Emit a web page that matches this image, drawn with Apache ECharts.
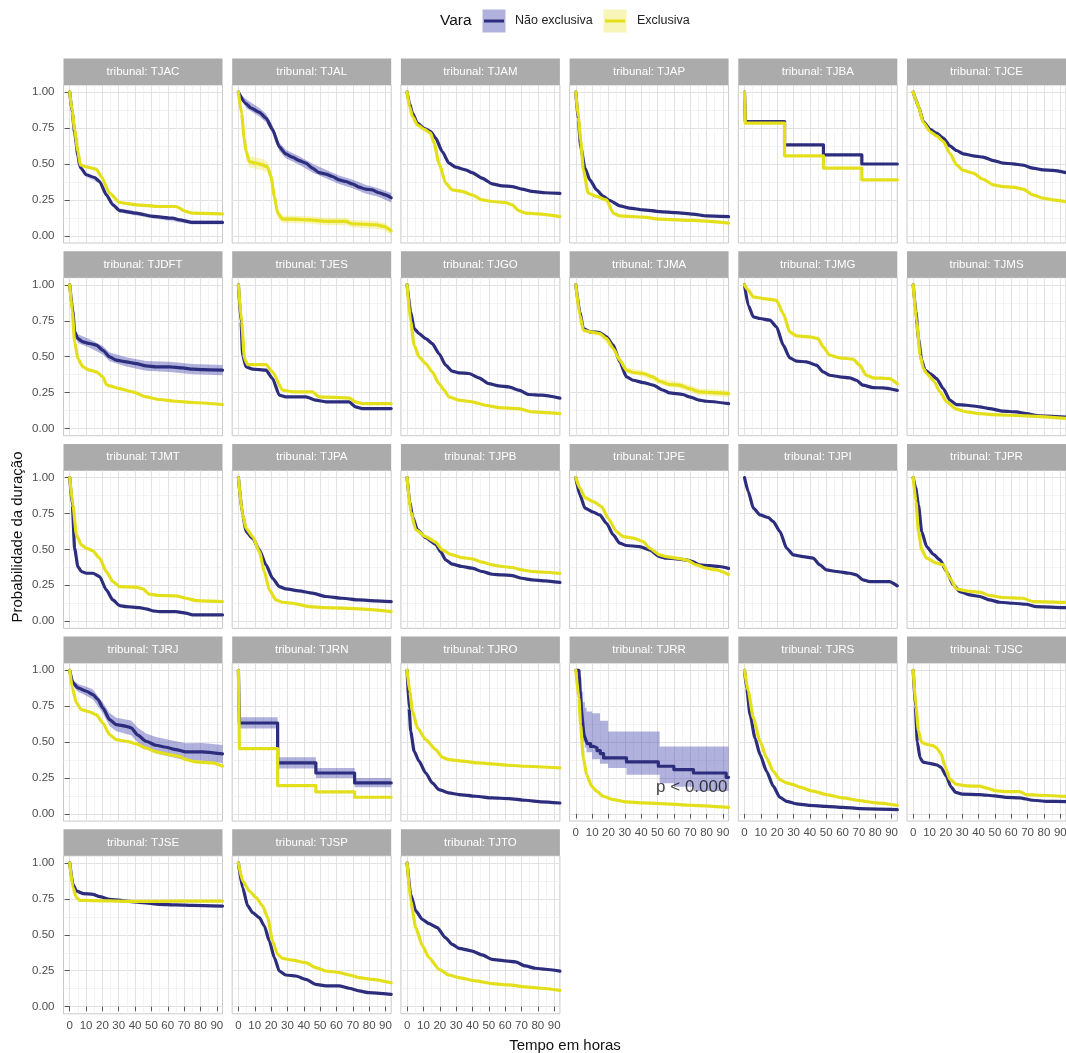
<!DOCTYPE html>
<html>
<head>
<meta charset="utf-8">
<script src="https://cdn.jsdelivr.net/npm/echarts@6/dist/echarts.min.js"></script>
<style>html,body{margin:0;padding:0;background:#fff}#c{width:1066px;height:1053px}</style>
</head>
<body>
<div id="c"></div>
<script>
// ---------------- DATA ----------------
const tribunais = ['TJAC','TJAL','TJAM','TJAP','TJBA','TJCE','TJDFT','TJES','TJGO','TJMA','TJMG','TJMS',
  'TJMT','TJPA','TJPB','TJPE','TJPI','TJPR','TJRJ','TJRN','TJRO','TJRR','TJRS','TJSC','TJSE','TJSP','TJTO'];
const xTicks = [0,10,20,30,40,50,60,70,80,90];
const xMinorTicks = [5,15,25,35,45,55,65,75,85];
const yTicks = [0,0.25,0.5,0.75,1];
const yMinorTicks = [0.125,0.375,0.625,0.875];
const legendTitle = 'Vara';
const groupNames = ['Não exclusiva','Exclusiva'];
const pValueText = 'p < 0.000';

// Kaplan-Meier curves: [hours, survival]
const TJAC_nao = [[0,1],[1.5,0.86],[3,0.72],[5,0.56],[6.1,0.49],[7,0.47],[10,0.425],[15.2,0.406],[18.3,0.378],[22.4,0.285],[26.4,0.216],[30.5,0.176],[40.6,0.158],[50.8,0.135],[63,0.123],[67,0.111],[75,0.093],[93.5,0.093]];
const TJAC_exc = [[0,1],[1.5,0.87],[3,0.74],[5,0.59],[6.5,0.494],[10,0.48],[16.3,0.464],[19.3,0.413],[24.4,0.297],[30.5,0.232],[40.6,0.216],[54.9,0.204],[65,0.204],[71,0.17],[75,0.158],[93.5,0.153]];
const TJAL_nao = [[0,1],[4.7,0.92],[7.7,0.89],[12.8,0.86],[16.9,0.82],[20.9,0.74],[25,0.62],[29,0.57],[33,0.548],[37.2,0.524],[41.3,0.506],[45.3,0.471],[49.4,0.44],[53.5,0.43],[57.5,0.413],[61.6,0.39],[65.7,0.378],[69.7,0.362],[73.8,0.339],[77.8,0.325],[81.9,0.32],[86,0.30],[90,0.285],[93.5,0.265]];
const TJAL_exc = [[0,1],[2,0.85],[3.5,0.68],[4.7,0.587],[6.7,0.517],[10.8,0.506],[14.8,0.494],[17.9,0.478],[19.9,0.413],[22,0.274],[24,0.158],[27,0.116],[33,0.116],[43.3,0.111],[53.5,0.10],[65.7,0.10],[69.7,0.084],[84,0.077],[89,0.065],[93.5,0.035]];
const TJAM_nao = [[0,1],[1.5,0.92],[3.3,0.854],[6.3,0.784],[10.4,0.749],[14.4,0.726],[17.5,0.68],[21.5,0.587],[25.6,0.506],[29.7,0.478],[35.8,0.459],[39.8,0.44],[45.9,0.401],[52,0.362],[58.1,0.348],[64.2,0.343],[70.3,0.325],[76.4,0.309],[84.6,0.30],[93.5,0.296]];
const TJAM_exc = [[0,1],[1.5,0.9],[3.3,0.83],[6.3,0.773],[10.4,0.742],[14.4,0.715],[16.5,0.645],[19.5,0.506],[23.6,0.367],[27.6,0.32],[33.7,0.309],[39.8,0.285],[45.9,0.25],[52,0.239],[60.2,0.232],[64.2,0.216],[68.3,0.176],[72.4,0.158],[80.5,0.153],[93.5,0.134]];
const TJAP_nao = [[0,1],[1.5,0.807],[3,0.62],[5.6,0.471],[8.6,0.39],[12.7,0.32],[16.8,0.274],[20.8,0.246],[26.9,0.209],[33,0.193],[41.2,0.181],[51.3,0.169],[61.5,0.162],[71.6,0.151],[79.8,0.139],[93.5,0.134]];
const TJAP_exc = [[0,1],[1.5,0.83],[3,0.668],[4.6,0.459],[7.6,0.297],[12.7,0.274],[18.8,0.25],[22.9,0.158],[26.9,0.139],[41.2,0.13],[51.3,0.116],[71.6,0.107],[93.5,0.088]];
const TJBA_nao = [[0,1],[0.5,0.796],[24.5,0.633],[48.3,0.563],[71.8,0.5],[93.5,0.5]];
const TJBA_exc = [[0,1],[0.5,0.784],[24.5,0.557],[48.3,0.471],[71.8,0.39],[93.5,0.39]];
const TJCE_nao = [[0,1],[1.5,0.95],[3.2,0.90],[6.2,0.796],[10.3,0.742],[14.3,0.715],[18.4,0.68],[22.5,0.626],[26.5,0.594],[30.6,0.571],[36.7,0.557],[42.8,0.548],[48.9,0.524],[55,0.506],[61.1,0.501],[67.2,0.492],[73.3,0.471],[79.4,0.459],[85.5,0.455],[93.5,0.44]];
const TJCE_exc = [[0,1],[1.5,0.95],[3.2,0.9],[6.2,0.789],[10.3,0.726],[14.3,0.696],[18.4,0.657],[22.5,0.575],[26.5,0.494],[30.6,0.455],[36.7,0.436],[42.8,0.394],[48.9,0.355],[55,0.343],[61.1,0.339],[67.2,0.325],[73.3,0.285],[79.4,0.262],[85.5,0.25],[93.5,0.238]];
const TJDFT_nao = [[0,1],[2,0.812],[3,0.673],[5,0.626],[8.1,0.603],[12.2,0.592],[16.3,0.58],[20.3,0.545],[24.4,0.499],[28.5,0.476],[34.6,0.464],[40.7,0.452],[46.7,0.436],[52.8,0.429],[61,0.429],[69.1,0.422],[75.2,0.413],[81.3,0.41],[93.5,0.406]];
const TJDFT_exc = [[0,1],[1.6,0.812],[3,0.603],[5,0.487],[8.1,0.429],[12.2,0.406],[16.3,0.394],[20.3,0.36],[22.5,0.305],[24.4,0.297],[30.5,0.278],[38.6,0.255],[46.7,0.22],[54.9,0.202],[65,0.19],[75.2,0.181],[93.5,0.167]];
const TJES_nao = [[0,1],[1.6,0.742],[2.6,0.51],[4.7,0.429],[8.7,0.413],[16.9,0.406],[20.9,0.348],[25,0.232],[29,0.22],[41.3,0.22],[47.4,0.197],[53.5,0.186],[67.7,0.186],[71.7,0.151],[75.8,0.139],[93.5,0.139]];
const TJES_exc = [[0,1],[2,0.742],[3.7,0.487],[5.7,0.445],[16.9,0.445],[20.9,0.394],[27,0.267],[33.1,0.255],[45.3,0.255],[49.4,0.22],[67.7,0.213],[71.7,0.186],[75.8,0.174],[93.5,0.174]];
const TJGO_nao = [[0,1],[2.2,0.812],[4.3,0.696],[7.3,0.661],[11.4,0.626],[15.4,0.592],[19.5,0.522],[23.6,0.441],[27.6,0.399],[31.7,0.387],[37.8,0.383],[43.9,0.353],[50,0.313],[56.1,0.297],[62.2,0.29],[68.3,0.267],[74.4,0.237],[82.5,0.232],[93.5,0.212]];
const TJGO_exc = [[0,1],[2.2,0.742],[4.3,0.58],[7.3,0.499],[11.4,0.452],[15.4,0.394],[19.5,0.313],[22.6,0.267],[25.6,0.22],[31.7,0.197],[39.8,0.186],[48,0.162],[56.1,0.146],[68.3,0.139],[76.4,0.116],[93.5,0.104]];
const TJMA_nao = [[0,1],[2.5,0.812],[4.6,0.696],[8.6,0.673],[14.7,0.668],[18.8,0.638],[22.9,0.58],[26.9,0.464],[31,0.36],[35,0.336],[41.2,0.32],[47.3,0.302],[53.4,0.267],[57.4,0.248],[65.5,0.237],[69.6,0.22],[75.7,0.197],[79.8,0.19],[93.5,0.173]];
const TJMA_exc = [[0,1],[2.5,0.789],[4.6,0.684],[8.6,0.673],[14.7,0.661],[18.8,0.626],[22.9,0.557],[26.9,0.476],[31,0.406],[35,0.39],[41.2,0.383],[47.3,0.36],[51.3,0.329],[57.4,0.306],[63.5,0.302],[69.6,0.278],[75.7,0.255],[83.8,0.25],[93.5,0.243]];
const TJMG_nao = [[0,1],[2.3,0.858],[5.4,0.777],[9.5,0.766],[15.5,0.754],[19.6,0.708],[23.7,0.58],[27.7,0.492],[31.8,0.469],[37.9,0.464],[44,0.441],[48.1,0.394],[52.2,0.371],[58.2,0.36],[64.3,0.353],[68.4,0.336],[72.5,0.302],[78.6,0.285],[84.7,0.283],[93.5,0.266]];
const TJMG_exc = [[0,1],[2.3,0.963],[5.4,0.916],[11.5,0.905],[19.6,0.893],[23.7,0.8],[27.7,0.673],[31.8,0.645],[39.9,0.638],[45,0.626],[48.1,0.568],[52.2,0.51],[58.2,0.492],[66.4,0.483],[70.4,0.441],[74.5,0.371],[78.6,0.353],[88.7,0.348],[93.5,0.312]];
const TJMS_nao = [[0,1],[1.7,0.812],[3.2,0.626],[5.2,0.476],[7.2,0.406],[10.3,0.383],[14.3,0.348],[18.4,0.278],[22.5,0.197],[26.5,0.167],[32.6,0.162],[40.7,0.151],[46.8,0.139],[54.9,0.121],[63.1,0.116],[69.2,0.104],[77.3,0.088],[93.5,0.08]];
const TJMS_exc = [[0,1],[2.1,0.742],[4.2,0.51],[6.2,0.418],[8.2,0.383],[12.3,0.336],[16.4,0.255],[20.4,0.186],[26.5,0.135],[32.6,0.116],[40.7,0.104],[48.9,0.097],[69.2,0.088],[93.5,0.07]];
const TJMT_nao = [[0,1],[1.6,0.81],[3,0.508],[5,0.381],[7.1,0.346],[10.2,0.334],[14.2,0.334],[18.3,0.311],[22.4,0.218],[26.4,0.148],[30.5,0.109],[34.6,0.102],[42.7,0.095],[46.7,0.086],[50.8,0.072],[54.9,0.067],[65,0.067],[71.1,0.056],[75.2,0.044],[93.5,0.044]];
const TJMT_exc = [[0,1],[2,0.81],[4.1,0.601],[7.1,0.531],[10.2,0.508],[14.2,0.49],[18.3,0.439],[22.4,0.346],[26.4,0.276],[30.5,0.241],[40.7,0.237],[44.7,0.225],[48.8,0.188],[54.9,0.179],[65,0.176],[71.1,0.16],[77.2,0.144],[93.5,0.137]];
const TJPA_nao = [[0,1],[2.6,0.74],[4.7,0.624],[8.7,0.578],[12.8,0.497],[16.9,0.392],[20.9,0.299],[25,0.241],[29,0.225],[37.2,0.211],[45.3,0.195],[53.5,0.172],[63.6,0.16],[73.8,0.148],[84,0.142],[93.5,0.137]];
const TJPA_exc = [[0,1],[2.6,0.74],[4.7,0.647],[8.7,0.589],[12.8,0.485],[15.9,0.346],[18.9,0.218],[23,0.148],[27,0.132],[33.1,0.125],[43.3,0.102],[53.5,0.095],[73.8,0.086],[93.5,0.067]];
const TJPB_nao = [[0,1],[1.6,0.833],[3.3,0.729],[6.3,0.636],[11.4,0.582],[17.5,0.536],[20.5,0.485],[23.6,0.427],[27.6,0.397],[33.7,0.381],[39.8,0.369],[45.9,0.346],[52,0.327],[58.1,0.323],[64.2,0.318],[70.3,0.299],[76.4,0.288],[84.6,0.281],[93.5,0.27]];
const TJPB_exc = [[0,1],[2.2,0.763],[5.3,0.636],[11.4,0.589],[17.5,0.55],[21.5,0.497],[26.6,0.466],[33.7,0.443],[39.8,0.434],[45.9,0.411],[52,0.392],[58.1,0.381],[64.2,0.374],[70.3,0.357],[76.4,0.346],[84.6,0.341],[93.5,0.333]];
const TJPE_nao = [[0,1],[2.5,0.879],[5.6,0.787],[10.7,0.759],[14.7,0.74],[18.8,0.682],[22.9,0.601],[26.9,0.543],[31,0.527],[39.1,0.52],[45.2,0.497],[51.3,0.45],[55.4,0.439],[61.5,0.434],[67.6,0.427],[71.6,0.415],[75.7,0.392],[81.8,0.387],[87.9,0.381],[93.5,0.368]];
const TJPE_exc = [[0,1],[2.5,0.926],[5.6,0.861],[10.7,0.833],[15.8,0.798],[19.8,0.717],[24.9,0.624],[29,0.589],[35.1,0.578],[41.2,0.555],[45.2,0.508],[51.3,0.462],[55.4,0.45],[61.5,0.439],[67.6,0.427],[73.7,0.392],[79.8,0.369],[85.9,0.357],[93.5,0.325]];
const TJPI_nao = [[0,1],[2.3,0.903],[5.4,0.787],[9.5,0.74],[14.5,0.722],[17.6,0.694],[21.7,0.624],[25.8,0.508],[29.8,0.462],[35.9,0.45],[42,0.439],[46.1,0.392],[50.1,0.357],[56.2,0.346],[64.4,0.334],[68.4,0.323],[72.5,0.288],[76.6,0.276],[88.7,0.276],[93.5,0.246]];
const TJPI_exc = [];
const TJPR_nao = [[0,1],[1.5,0.93],[3.2,0.81],[5.2,0.624],[8.2,0.52],[12.3,0.466],[16.4,0.427],[20.4,0.346],[24.5,0.253],[28.6,0.206],[34.7,0.183],[40.8,0.172],[46.8,0.148],[52.9,0.132],[61.1,0.125],[69.2,0.118],[75.3,0.102],[93.5,0.094]];
const TJPR_exc = [[0,1],[1.7,0.833],[3.2,0.624],[5.2,0.497],[8.2,0.439],[14.3,0.404],[18.4,0.392],[22.5,0.299],[26.5,0.225],[32.6,0.211],[40.7,0.202],[46.8,0.179],[54.9,0.165],[67.1,0.16],[73.3,0.137],[93.5,0.131]];
const TJRJ_nao = [[0,1],[2,0.912],[5.1,0.877],[10.2,0.854],[14.2,0.831],[17.3,0.796],[20.3,0.738],[24.4,0.657],[28.5,0.622],[34.6,0.61],[37.6,0.599],[41.7,0.548],[46.7,0.506],[52.8,0.478],[58.9,0.464],[65,0.448],[71.1,0.432],[81.3,0.432],[93.5,0.418]];
const TJRJ_exc = [[0,1],[1.6,0.877],[4.1,0.773],[7.1,0.726],[12.2,0.71],[16.3,0.691],[20.3,0.633],[24.4,0.552],[28.5,0.517],[34.6,0.506],[40.7,0.487],[46.7,0.459],[52.8,0.432],[61,0.413],[67,0.401],[71.1,0.378],[77.2,0.362],[87.3,0.355],[93.5,0.332]];
const TJRN_nao = [[0,1],[0.6,0.633],[24,0.355],[47.4,0.285],[71.1,0.216],[93.5,0.216]];
const TJRN_exc = [[0,1],[0.6,0.455],[24,0.197],[47.4,0.153],[71.1,0.116],[93.5,0.116]];
const TJRO_nao = [[0,1],[1.2,0.738],[2.2,0.575],[4.3,0.436],[7.3,0.367],[11.4,0.285],[15.4,0.216],[19.5,0.169],[25.6,0.146],[31.7,0.135],[41.9,0.123],[52,0.111],[62.2,0.107],[72.4,0.095],[82.5,0.084],[93.5,0.076]];
const TJRO_exc = [[0,1],[1.6,0.854],[3.3,0.715],[6.3,0.599],[11.4,0.517],[17.5,0.448],[21.5,0.394],[25.6,0.378],[33.7,0.367],[43.9,0.355],[52,0.348],[62.2,0.339],[72.4,0.332],[93.5,0.32]];
const TJRR_nao = [[0,1],[1.9,1],[2.5,0.88],[3,0.8],[3.5,0.72],[4,0.66],[4.5,0.6],[5,0.55],[6,0.52],[7,0.49],[9,0.47],[11,0.46],[13,0.44],[15,0.42],[17,0.39],[31,0.362],[50.5,0.332],[60,0.309],[72,0.285],[92,0.255],[93.5,0.255]];
const TJRR_exc = [[0,1],[1.9,0.807],[2.9,0.622],[4.6,0.39],[6.6,0.274],[9.7,0.193],[12.7,0.158],[16.8,0.123],[22.9,0.1],[31,0.084],[41.2,0.077],[51.3,0.072],[71.6,0.06],[93.5,0.046]];
const TJRS_nao = [[0,1],[1.3,0.877],[3.4,0.691],[6.4,0.529],[9.5,0.413],[13.5,0.297],[17.6,0.193],[21.6,0.116],[25.7,0.088],[31.8,0.07],[39.9,0.06],[50.1,0.053],[60.3,0.046],[70.4,0.037],[93.5,0.03]];
const TJRS_exc = [[0,1],[2.3,0.854],[5.4,0.668],[9.5,0.506],[13.5,0.39],[17.6,0.297],[21.6,0.239],[25.7,0.216],[29.8,0.204],[33.8,0.186],[42,0.158],[50.1,0.135],[60.3,0.111],[70.4,0.093],[80.6,0.077],[93.5,0.06]];
const TJSC_nao = [[0,1],[1.3,0.75],[2.5,0.5],[4.2,0.39],[6,0.36],[10,0.352],[14.3,0.342],[17,0.325],[20.4,0.26],[23,0.19],[26,0.15],[30,0.138],[40.8,0.135],[50,0.125],[57,0.115],[65,0.112],[73.3,0.095],[81.4,0.088],[93.5,0.086]];
const TJSC_exc = [[0,1],[1.7,0.75],[3.2,0.58],[5,0.5],[8,0.485],[12,0.475],[14.3,0.46],[17,0.42],[19.5,0.33],[22.5,0.24],[26.5,0.205],[32.6,0.195],[40.7,0.193],[45,0.18],[50.9,0.16],[59,0.155],[65.2,0.155],[69.2,0.135],[77.3,0.13],[93.5,0.122]];
const TJSE_nao = [[0,1],[2,0.852],[4.1,0.805],[8.1,0.787],[14.2,0.782],[18.3,0.766],[24.4,0.747],[34.6,0.735],[44.7,0.724],[54.9,0.712],[65,0.708],[75.2,0.705],[93.5,0.70]];
const TJSE_exc = [[0,1],[2,0.828],[4.1,0.759],[6.1,0.74],[14.2,0.738],[34.6,0.733],[54.9,0.733],[75.2,0.735],[93.5,0.735]];
const TJSP_nao = [[0,1],[2.6,0.828],[5.7,0.701],[8.7,0.654],[12.8,0.619],[15.9,0.561],[18.9,0.457],[22,0.341],[25,0.248],[29,0.22],[35.2,0.213],[41.3,0.19],[47.4,0.155],[53.5,0.144],[61.6,0.144],[67.7,0.128],[73.8,0.109],[79.9,0.097],[93.5,0.085]];
const TJSP_exc = [[0,1],[2.6,0.875],[6.7,0.805],[10.8,0.759],[14.8,0.701],[17.9,0.619],[20.9,0.457],[24,0.364],[27,0.336],[33.1,0.323],[41.3,0.306],[47.4,0.271],[53.5,0.248],[61.6,0.237],[67.7,0.22],[73.8,0.202],[81.9,0.19],[93.5,0.166]];
const TJTO_nao = [[0,1],[2.2,0.782],[5.3,0.666],[9.3,0.608],[13.4,0.578],[18.5,0.55],[23.4,0.48],[27.6,0.434],[31.7,0.406],[39.8,0.387],[45.9,0.36],[52,0.329],[60.2,0.318],[66.3,0.311],[72.4,0.283],[78.5,0.267],[84.6,0.26],[93.5,0.247]];
const TJTO_exc = [[0,1],[2.2,0.735],[5.3,0.55],[9.3,0.425],[13.4,0.341],[19.5,0.26],[25.6,0.22],[31.7,0.202],[41.9,0.179],[52,0.16],[62.2,0.151],[72.4,0.137],[82.5,0.128],[93.5,0.113]];

// Confidence bands: [hours, lower, upper]
const TJAC_nao_ic = [[0,1,1],[6.1,0.475,0.505],[10,0.41,0.44],[18.3,0.362,0.394],[26.4,0.2,0.232],[30.5,0.16,0.192],[50.8,0.12,0.15],[75,0.078,0.108],[93.5,0.078,0.108]];
const TJAL_nao_ic = [[0,1,1],[4.7,0.89,0.95],[12.8,0.83,0.89],[16.9,0.79,0.85],[20.9,0.71,0.77],[25,0.59,0.65],[29,0.54,0.60],[37.2,0.494,0.554],[45.3,0.441,0.501],[53.5,0.40,0.46],[61.6,0.36,0.42],[69.7,0.332,0.392],[77.8,0.295,0.355],[86,0.27,0.33],[93.5,0.232,0.298]];
const TJAL_exc_ic = [[0,1,1],[2,0.82,0.88],[4.7,0.547,0.627],[6.7,0.477,0.557],[14.8,0.454,0.534],[17.9,0.44,0.516],[19.9,0.378,0.448],[22,0.244,0.304],[24,0.13,0.186],[27,0.09,0.142],[43.3,0.085,0.137],[53.5,0.074,0.126],[65.7,0.074,0.126],[69.7,0.058,0.11],[84,0.05,0.104],[89,0.038,0.092],[93.5,0.01,0.06]];
const TJDFT_nao_ic = [[0,1,1],[2,0.79,0.83],[3,0.645,0.70],[5,0.596,0.656],[12.2,0.562,0.622],[20.3,0.515,0.575],[24.4,0.469,0.529],[34.6,0.432,0.496],[46.7,0.402,0.47],[61,0.393,0.465],[75.2,0.377,0.449],[93.5,0.37,0.442]];
const TJMA_exc_ic = [[0,1,1],[4.6,0.67,0.70],[14.7,0.645,0.677],[22.9,0.54,0.574],[31,0.388,0.424],[41.2,0.363,0.403],[51.3,0.309,0.349],[63.5,0.28,0.324],[75.7,0.232,0.278],[93.5,0.22,0.266]];
const TJRJ_nao_ic = [[0,1,1],[2,0.89,0.935],[5.1,0.85,0.905],[10.2,0.822,0.886],[14.2,0.796,0.866],[20.3,0.7,0.776],[24.4,0.612,0.702],[28.5,0.575,0.67],[37.6,0.548,0.65],[41.7,0.497,0.6],[46.7,0.452,0.56],[52.8,0.42,0.536],[65,0.39,0.506],[71.1,0.372,0.492],[81.3,0.37,0.494],[93.5,0.355,0.48]];
const TJRN_nao_ic = [[0,1,1],[0.6,0.594,0.673],[24,0.317,0.395],[47.4,0.25,0.32],[71.1,0.185,0.25],[93.5,0.185,0.25]];
const TJRR_nao_ic = [[0,1,1],[1.9,1,1],[2.5,0.78,0.95],[3.5,0.62,0.85],[4.5,0.5,0.78],[5.5,0.46,0.74],[6.6,0.43,0.713],[10,0.38,0.70],[14.8,0.35,0.648],[19.8,0.319,0.574],[31,0.272,0.574],[51.3,0.214,0.469],[60,0.19,0.469],[72,0.16,0.469],[93.5,0.145,0.469]];

// ---------------- ASSEMBLY ----------------
const naoExclusiva = {TJAC:TJAC_nao,TJAL:TJAL_nao,TJAM:TJAM_nao,TJAP:TJAP_nao,TJBA:TJBA_nao,TJCE:TJCE_nao,TJDFT:TJDFT_nao,TJES:TJES_nao,TJGO:TJGO_nao,TJMA:TJMA_nao,TJMG:TJMG_nao,TJMS:TJMS_nao,TJMT:TJMT_nao,TJPA:TJPA_nao,TJPB:TJPB_nao,TJPE:TJPE_nao,TJPI:TJPI_nao,TJPR:TJPR_nao,TJRJ:TJRJ_nao,TJRN:TJRN_nao,TJRO:TJRO_nao,TJRR:TJRR_nao,TJRS:TJRS_nao,TJSC:TJSC_nao,TJSE:TJSE_nao,TJSP:TJSP_nao,TJTO:TJTO_nao};
const exclusiva = {TJAC:TJAC_exc,TJAL:TJAL_exc,TJAM:TJAM_exc,TJAP:TJAP_exc,TJBA:TJBA_exc,TJCE:TJCE_exc,TJDFT:TJDFT_exc,TJES:TJES_exc,TJGO:TJGO_exc,TJMA:TJMA_exc,TJMG:TJMG_exc,TJMS:TJMS_exc,TJMT:TJMT_exc,TJPA:TJPA_exc,TJPB:TJPB_exc,TJPE:TJPE_exc,TJPI:TJPI_exc,TJPR:TJPR_exc,TJRJ:TJRJ_exc,TJRN:TJRN_exc,TJRO:TJRO_exc,TJRR:TJRR_exc,TJRS:TJRS_exc,TJSC:TJSC_exc,TJSE:TJSE_exc,TJSP:TJSP_exc,TJTO:TJTO_exc};
const naoIC = {TJAC:TJAC_nao_ic,TJAL:TJAL_nao_ic,TJDFT:TJDFT_nao_ic,TJRJ:TJRJ_nao_ic,TJRN:TJRN_nao_ic,TJRR:TJRR_nao_ic};
const excIC = {TJAL:TJAL_exc_ic,TJMA:TJMA_exc_ic};
const stepNao = ['TJBA','TJRN','TJRR'];
const stepExc = ['TJBA','TJRN'];

// ---------------- STYLE / LAYOUT ----------------
const FONT = "'Liberation Sans', Arial, Helvetica, sans-serif";
const NAVY = '#2c2d7c', YELLOW = '#e4df1b';
const NAVY_FILL = 'rgba(60,60,170,0.40)', YELLOW_FILL = 'rgba(230,225,30,0.32)';
const MAJOR = '#e2e2e2', MINOR = '#eeeeee';
const X_MIN = -3.8, X_MAX = 93.5, Y_MIN = -0.05, Y_MAX = 1.05;
const COL_X0 = 63.5, COL_STEP = 168.7, PW = 159;
const ROW_Y0 = 85, ROW_STEP = 192.7, PH = 158, STRIP = 26.5;
const P_LABEL_AT = [92.8, 0.185];
const LINE_W = 3.2;

const grids = [], xAxes = [], yAxes = [], series = [], graphics = [];

function ribbon(k, pts, fill, step) {
  return {
    type: 'custom', xAxisIndex: 2*k, yAxisIndex: 2*k, clip: true, silent: true, z: 1,
    data: pts, encode: {x: 0, y: [1, 2]},
    renderItem: function (params, api) {
      if (params.dataIndex !== 0) return null;
      const up = [], lo = [];
      for (let i = 0; i < pts.length; i++) {
        const p = pts[i];
        if (step && i > 0) {
          up.push(api.coord([p[0], pts[i-1][2]]));
          lo.push(api.coord([p[0], pts[i-1][1]]));
        }
        up.push(api.coord([p[0], p[2]]));
        lo.push(api.coord([p[0], p[1]]));
      }
      return {type: 'polygon', shape: {points: up.concat(lo.reverse())}, style: {fill: fill, stroke: null}};
    }
  };
}
function curve(k, name, pts, color, step, z) {
  return {
    type: 'line', name: name, xAxisIndex: 2*k, yAxisIndex: 2*k, data: pts,
    showSymbol: false, symbol: 'none', step: step ? 'end' : false,
    smooth: step ? false : 0.2, smoothMonotone: 'x', clip: true, silent: true, z: z,
    lineStyle: {color: color, width: LINE_W, cap: 'round', join: 'round'}
  };
}

tribunais.forEach((t, k) => {
  const r = Math.floor(k / 6), c = k % 6;
  const left = COL_X0 + c * COL_STEP, top = ROW_Y0 + r * ROW_STEP;
  grids.push({left: left, top: top, width: PW, height: PH, show: true, backgroundColor: '#fff',
    borderColor: '#c9c9c9', borderWidth: 1, containLabel: false, outerBoundsMode: 'none'});
  const showX = (r === 4) || (r === 3 && c >= 3);
  const showY = (c === 0);
  xAxes.push({gridIndex: k, type: 'value', min: X_MIN, max: X_MAX, position: 'bottom',
    axisLine: {show: false},
    axisTick: {show: showX, customValues: xTicks, length: 4.5, lineStyle: {color: '#555'}},
    axisLabel: {show: showX, customValues: xTicks, fontSize: 11.5, color: '#4d4d4d', margin: 6, fontFamily: FONT},
    splitLine: {show: true, lineStyle: {color: MAJOR, width: 1}}});
  xAxes.push({gridIndex: k, type: 'value', min: X_MIN, max: X_MAX, position: 'top',
    axisLine: {show: false},
    axisTick: {show: false, customValues: xMinorTicks},
    axisLabel: {show: false, customValues: xMinorTicks},
    splitLine: {show: true, lineStyle: {color: MINOR, width: 0.7}}});
  yAxes.push({gridIndex: k, type: 'value', min: Y_MIN, max: Y_MAX, position: 'left',
    axisLine: {show: false},
    axisTick: {show: showY, customValues: yTicks, length: 5, lineStyle: {color: '#555'}},
    axisLabel: {show: showY, customValues: yTicks, fontSize: 11.5, color: '#4d4d4d', margin: 9, fontFamily: FONT,
      formatter: v => Number(v).toFixed(2)},
    splitLine: {show: true, lineStyle: {color: MAJOR, width: 1}}});
  yAxes.push({gridIndex: k, type: 'value', min: Y_MIN, max: Y_MAX, position: 'right',
    axisLine: {show: false},
    axisTick: {show: false, customValues: yMinorTicks},
    axisLabel: {show: false, customValues: yMinorTicks},
    splitLine: {show: true, lineStyle: {color: MINOR, width: 0.7}}});

  if (naoIC[t]) series.push(ribbon(k, naoIC[t], t === 'TJAC' ? 'rgba(60,60,170,0.22)' : NAVY_FILL, stepNao.includes(t)));
  if (excIC[t]) series.push(ribbon(k, excIC[t], YELLOW_FILL, stepExc.includes(t)));
  if (naoExclusiva[t].length) series.push(curve(k, groupNames[0], naoExclusiva[t], NAVY, stepNao.includes(t), 3));
  if (exclusiva[t].length) series.push(curve(k, groupNames[1], exclusiva[t], YELLOW, stepExc.includes(t), 4));

  if (t === 'TJRR') {
    series.push({type: 'scatter', xAxisIndex: 2*k, yAxisIndex: 2*k, data: [P_LABEL_AT], symbolSize: 1,
      itemStyle: {color: 'transparent'}, silent: true, z: 6,
      label: {show: true, formatter: pValueText, position: 'inside', align: 'right', verticalAlign: 'middle',
        fontSize: 17, color: '#111', fontFamily: FONT}});
  }

  // facet strip
  graphics.push({type: 'rect', shape: {x: left, y: top - STRIP, width: PW, height: STRIP},
    style: {fill: '#ababab'}, silent: true});
  graphics.push({type: 'text', x: left + PW / 2, y: top - STRIP / 2,
    style: {text: 'tribunal: ' + t, fill: '#ffffff', font: '11.5px ' + FONT, textAlign: 'center', textVerticalAlign: 'middle'},
    silent: true});
});

// legend (ggplot style keys)
graphics.push({type: 'text', x: 440, y: 21, style: {text: legendTitle, fill: '#111', font: '15.5px ' + FONT, textAlign: 'left', textVerticalAlign: 'middle'}});
graphics.push({type: 'rect', shape: {x: 482.5, y: 9.5, width: 23, height: 23}, style: {fill: NAVY_FILL}});
graphics.push({type: 'line', shape: {x1: 484, y1: 21, x2: 504, y2: 21}, style: {stroke: NAVY, lineWidth: 3}});
graphics.push({type: 'text', x: 515, y: 21, style: {text: groupNames[0], fill: '#222', font: '12.5px ' + FONT, textAlign: 'left', textVerticalAlign: 'middle'}});
graphics.push({type: 'rect', shape: {x: 603.5, y: 9.5, width: 23, height: 23}, style: {fill: YELLOW_FILL}});
graphics.push({type: 'line', shape: {x1: 605, y1: 21, x2: 625, y2: 21}, style: {stroke: YELLOW, lineWidth: 3}});
graphics.push({type: 'text', x: 637, y: 21, style: {text: groupNames[1], fill: '#222', font: '12.5px ' + FONT, textAlign: 'left', textVerticalAlign: 'middle'}});

// axis titles
graphics.push({type: 'text', x: 18, y: 537, rotation: Math.PI / 2,
  style: {text: 'Probabilidade da duração', fill: '#111', font: '15px ' + FONT, textAlign: 'center', textVerticalAlign: 'middle'}});
graphics.push({type: 'text', x: 565, y: 1046,
  style: {text: 'Tempo em horas', fill: '#111', font: '15px ' + FONT, textAlign: 'center', textVerticalAlign: 'middle'}});

const chart = echarts.init(document.getElementById('c'), null, {renderer: 'canvas'});
chart.setOption({
  animation: false,
  backgroundColor: '#ffffff',
  textStyle: {fontFamily: FONT},
  grid: grids, xAxis: xAxes, yAxis: yAxes, series: series,
  graphic: graphics
});
</script>
</body>
</html>
